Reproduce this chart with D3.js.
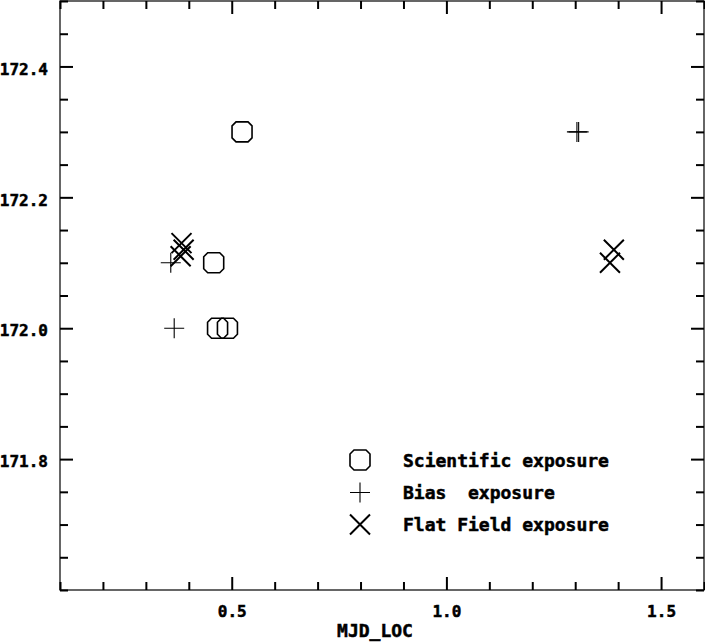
<!DOCTYPE html>
<html>
<head>
<meta charset="utf-8">
<script src="https://cdn.jsdelivr.net/npm/d3@7"></script>
<style>
  html, body { margin: 0; padding: 0; background: #fff; }
  svg { display: block; }
  text { font-family: "DejaVu Sans Mono", monospace; font-weight: bold; fill: #000; stroke: #000; stroke-width: 0.5px; }
</style>
</head>
<body>
<svg id="chart" width="705" height="643"></svg>
<script>
// ---- data ----
const sciX  = [0.524, 0.458, 0.467, 0.490];
const sciY  = [172.30, 172.10, 172.00, 172.00];
const biasX = [0.358, 0.366, 1.304, 1.308];
const biasY = [172.10, 172.00, 172.30, 172.30];
const flatX = [0.383, 0.388, 0.381, 1.390, 1.381];
const flatY = [172.13, 172.12, 172.11, 172.12, 172.10];

const xMajor = [0.5, 1.0, 1.5];
const xMinor = [0.1, 0.2, 0.3, 0.4, 0.6, 0.7, 0.8, 0.9, 1.1, 1.2, 1.3, 1.4, 1.6];
const yMajor = [171.8, 172.0, 172.2, 172.4];
const yMinor = [171.6, 171.65, 171.7, 171.75, 171.85, 171.9, 171.95, 172.05, 172.1, 172.15,
                172.25, 172.3, 172.35, 172.45, 172.5];
const xTitle = "MJD_LOC";
const legendLabels = ["Scientific exposure", "Bias  exposure", "Flat Field exposure"];

// ---- layout ----
const L = 60, R = 704, T = 1, B = 590;
const svg = d3.select("#chart");
const x = d3.scaleLinear().domain([0.1, 1.6]).range([L, R]);
const y = d3.scaleLinear().domain([171.6, 172.5]).range([B, T]);

// frame
svg.append("rect").attr("x", L).attr("y", T).attr("width", R - L).attr("height", B - T)
  .attr("fill", "none").attr("stroke", "#000").attr("stroke-width", 1.2);

function styleAxis(g, labels) {
  g.select(".domain").remove();
  g.selectAll(".tick line").attr("stroke", "#000").attr("stroke-width", 2);
  if (!labels) g.selectAll(".tick text").remove();
}

const fmt = d3.format(".1f");
// bottom
svg.append("g").attr("transform", `translate(0,${B})`)
  .call(d3.axisBottom(x).tickValues(xMinor).tickSizeInner(-8).tickSizeOuter(0).tickFormat(""))
  .call(g => styleAxis(g, false));
svg.append("g").attr("transform", `translate(0,${B})`)
  .call(d3.axisBottom(x).tickValues(xMajor).tickSizeInner(-13).tickSizeOuter(0).tickPadding(16).tickFormat(fmt))
  .call(g => styleAxis(g, true))
  .call(g => g.selectAll(".tick text").attr("font-size", 16).attr("font-family", null));
// top
svg.append("g").attr("transform", `translate(0,${T})`)
  .call(d3.axisTop(x).tickValues(xMinor).tickSizeInner(-8).tickSizeOuter(0).tickFormat(""))
  .call(g => styleAxis(g, false));
svg.append("g").attr("transform", `translate(0,${T})`)
  .call(d3.axisTop(x).tickValues(xMajor).tickSizeInner(-13).tickSizeOuter(0).tickFormat(""))
  .call(g => styleAxis(g, false));
// left
svg.append("g").attr("transform", `translate(${L},0)`)
  .call(d3.axisLeft(y).tickValues(yMinor).tickSizeInner(-8).tickSizeOuter(0).tickFormat(""))
  .call(g => styleAxis(g, false));
svg.append("g").attr("transform", `translate(${L},0)`)
  .call(d3.axisLeft(y).tickValues(yMajor).tickSizeInner(-13).tickSizeOuter(0).tickPadding(12).tickFormat(fmt))
  .call(g => styleAxis(g, true))
  .call(g => g.selectAll(".tick text").attr("font-size", 16).attr("font-family", null).attr("dy", "0.48em"));
// right
svg.append("g").attr("transform", `translate(${R},0)`)
  .call(d3.axisRight(y).tickValues(yMinor).tickSizeInner(-8).tickSizeOuter(0).tickFormat(""))
  .call(g => styleAxis(g, false));
svg.append("g").attr("transform", `translate(${R},0)`)
  .call(d3.axisRight(y).tickValues(yMajor).tickSizeInner(-13).tickSizeOuter(0).tickFormat(""))
  .call(g => styleAxis(g, false));

// x title
svg.append("text").attr("x", 375).attr("y", 637).attr("text-anchor", "middle")
  .attr("font-size", 18).text(xTitle);

// ---- markers ----
const octPath = "M-6,-10L6,-10L10,-6L10,6L6,10L-6,10L-10,6L-10,-6Z";
const plusPath = "M-10,0L10,0M0,-10L0,10";
const crossPath = "M-10,-10L10,10M10,-10L-10,10";

function drawOct(g, px, py) {
  g.append("path").attr("d", octPath).attr("transform", `translate(${px},${py})`)
    .attr("fill", "none").attr("stroke", "#000").attr("stroke-width", 1.6);
}
function drawPlus(g, px, py) {
  g.append("path").attr("d", plusPath).attr("transform", `translate(${px},${py})`)
    .attr("fill", "none").attr("stroke", "#000").attr("stroke-width", 1.1);
}
function drawCross(g, px, py) {
  g.append("path").attr("d", crossPath).attr("transform", `translate(${px},${py})`)
    .attr("fill", "none").attr("stroke", "#000").attr("stroke-width", 2);
}

const pts = svg.append("g");
sciX.forEach((v, i) => drawOct(pts, x(v), y(sciY[i])));
biasX.forEach((v, i) => drawPlus(pts, x(v), y(biasY[i])));
flatX.forEach((v, i) => drawCross(pts, x(v), y(flatY[i])));

// ---- legend ----
const leg = svg.append("g");
const rowY = [460, 492.5, 524.5];
const drawers = [drawOct, drawPlus, drawCross];
legendLabels.forEach((lab, i) => {
  drawers[i](leg, 360, rowY[i]);
  leg.append("text").attr("x", 403).attr("y", rowY[i] + 6.5).attr("font-size", 18)
    .attr("xml:space", "preserve").style("white-space", "pre").text(lab);
});
</script>
</body>
</html>
